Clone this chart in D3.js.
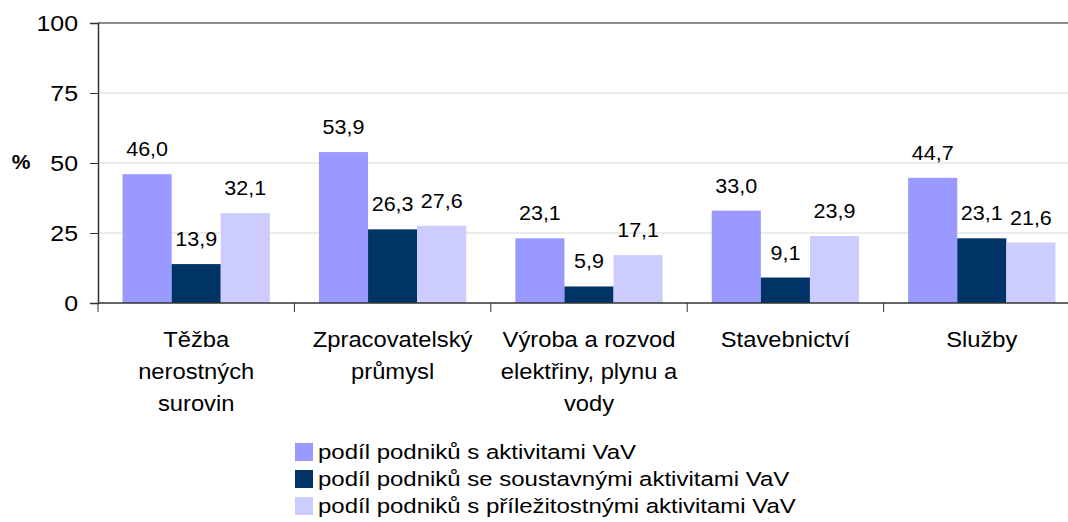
<!DOCTYPE html>
<html>
<head>
<meta charset="utf-8">
<script src="https://cdn.jsdelivr.net/npm/d3@7"></script>
<style>
  body { margin: 0; background: #fff; }
  svg { display: block; font-family: Arial, "Liberation Sans", sans-serif; }
</style>
</head>
<body>
<div id="chart"></div>
<script>
// categories (one entry per line of the axis label)
const categories = [
  ["Těžba", "nerostných", "surovin"],
  ["Zpracovatelský", "průmysl"],
  ["Výroba a rozvod", "elektřiny, plynu a", "vody"],
  ["Stavebnictví"],
  ["Služby"]
];
const seriesNames = [
  "podíl podniků s aktivitami VaV",
  "podíl podniků se soustavnými aktivitami VaV",
  "podíl podniků s příležitostnými aktivitami VaV"
];
const seriesAll = [46.0, 53.9, 23.1, 33.0, 44.7];
const seriesSystematic = [13.9, 26.3, 5.9, 9.1, 23.1];
const seriesOccasional = [32.1, 27.6, 17.1, 23.9, 21.6];
const yTicks = [0, 25, 50, 75, 100];
const colors = ["#9999ff", "#003366", "#ccccff"];

const width = 1068, height = 522;
const plotLeft = 98, plotRight = 1080, plotTop = 23, plotBottom = 303;

const svg = d3.select("#chart").append("svg")
  .attr("width", width)
  .attr("height", height);

const catKeys = categories.map(c => c.join(" "));
const values = [seriesAll, seriesSystematic, seriesOccasional];

// scales
const x0 = d3.scaleBand().domain(catKeys).range([plotLeft, plotRight]).padding(0);
const bw = x0.bandwidth();
const x1 = d3.scaleBand().domain(d3.range(3)).range([bw * 0.125, bw * 0.875]).padding(0);
const y = d3.scaleLinear().domain([0, 100]).range([plotBottom, plotTop]);

const fmt = v => v.toFixed(1).replace(".", ",");

// text stretched horizontally like the original rendering
function addText(parent, tx, ty, str, size, anchor, sx, weight) {
  return parent.append("text")
    .attr("transform", `translate(${tx},${ty}) scale(${sx},1)`)
    .attr("text-anchor", anchor)
    .attr("font-size", size)
    .attr("font-weight", weight || "normal")
    .attr("fill", "#000")
    .text(str);
}

// gridlines
svg.append("g")
  .selectAll("line")
  .data(yTicks.filter(t => t > 0))
  .enter()
  .append("line")
  .attr("x1", plotLeft).attr("x2", width)
  .attr("y1", d => y(d)).attr("y2", d => y(d))
  .attr("stroke", d => d === 100 ? "#8c8c8c" : "#d9d9d9")
  .attr("stroke-width", d => d === 100 ? 2 : 1);

// bars
const groups = svg.append("g")
  .selectAll("g")
  .data(catKeys)
  .enter()
  .append("g")
  .attr("transform", d => `translate(${x0(d)},0)`);

groups.each(function(cat, ci) {
  const g = d3.select(this);
  for (let s = 0; s < 3; s++) {
    const v = values[s][ci];
    g.append("rect")
      .attr("x", x1(s))
      .attr("y", y(v))
      .attr("width", x1.bandwidth())
      .attr("height", y(0) - y(v))
      .attr("fill", colors[s]);
    addText(g, x1(s) + x1.bandwidth() / 2, y(v) - 18, fmt(v), 20.5, "middle", 1.05);
  }
});

// y axis
const yAxis = svg.append("g")
  .attr("transform", `translate(${plotLeft},0)`)
  .call(d3.axisLeft(y).tickValues(yTicks).tickSize(8).tickFormat(""));
yAxis.select(".domain").attr("stroke", "#333").attr("stroke-width", 1.5);
yAxis.selectAll(".tick line").attr("stroke", "#333");
yTicks.forEach(t => addText(svg, 78, y(t) + 7.5, String(t), 21.5, "end", 1.16));

addText(svg, 21, 169, "%", 20, "middle", 1.05, "bold");

// x axis
const xAxis = svg.append("g")
  .attr("transform", `translate(0,${plotBottom})`);
xAxis.append("line")
  .attr("x1", plotLeft).attr("x2", width)
  .attr("stroke", "#333").attr("stroke-width", 1.5);
xAxis.selectAll(".xtick")
  .data(catKeys.map(c => x0(c)))
  .enter()
  .append("line")
  .attr("class", "xtick")
  .attr("x1", d => d).attr("x2", d => d)
  .attr("y1", 0).attr("y2", 9)
  .attr("stroke", "#333");

categories.forEach((lines, i) => {
  const cx = x0(catKeys[i]) + bw / 2;
  lines.forEach((ln, j) => addText(svg, cx, 347 + j * 32, ln, 22, "middle", 1.08));
});

// legend
const legend = svg.append("g");
seriesNames.forEach((name, i) => {
  legend.append("rect")
    .attr("x", 295).attr("y", 443 + i * 27)
    .attr("width", 18).attr("height", 18)
    .attr("fill", colors[i]);
  addText(legend, 318, 459 + i * 27, name, 20.5, "start", 1.17);
});
</script>
</body>
</html>
